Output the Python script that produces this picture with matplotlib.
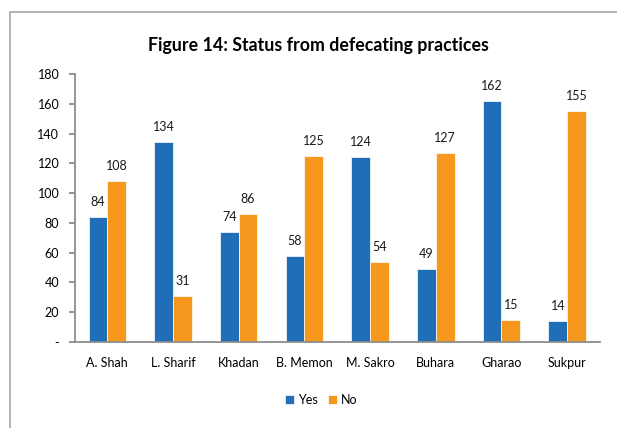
"""Figure 14: status from defecating practices, grouped bars per village."""

import matplotlib.pyplot as plt
import numpy as np
from matplotlib.patches import Rectangle

VILLAGES = ["A. Shah", "L. Sharif", "Khadan", "B. Memon", "M. Sakro", "Buhara", "Gharao", "Sukpur"]
YES = [84, 134, 74, 58, 124, 49, 162, 14]
NO = [108, 31, 86, 125, 54, 127, 15, 155]
Y_TICKS = [0, 20, 40, 60, 80, 100, 120, 140, 160, 180]
Y_TICK_LABELS = ["-"] + [str(t) for t in Y_TICKS[1:]]

BLUE = "#1F6EB7"
ORANGE = "#F7981E"
AXIS_GREY = "#8C8C8C"
FONT = ["Lato", "DejaVu Sans"]

plt.rcParams["font.family"] = FONT


def main() -> None:
    fig = plt.figure(figsize=(6.17, 4.28), dpi=100)
    fig.patches.append(Rectangle((10 / 617, -0.1), 1.2, 1 - 12 / 428 + 0.1,
                                 transform=fig.transFigure, fill=False,
                                 edgecolor="#A6A6A6", linewidth=1.2))

    ax = fig.add_axes([74.5 / 617, (428 - 342) / 428, (600 - 74.5) / 617, (342 - 74) / 428])
    x = np.arange(len(VILLAGES))
    width = 0.285
    bars_yes = ax.bar(x - width / 2, YES, width, color=BLUE, edgecolor="white", linewidth=0.5, label="Yes")
    bars_no = ax.bar(x + width / 2, NO, width, color=ORANGE, edgecolor="white", linewidth=0.5, label="No")

    for bars in (bars_yes, bars_no):
        for bar in bars:
            ax.annotate(f"{bar.get_height():.0f}",
                        (bar.get_x() + bar.get_width() / 2, bar.get_height()),
                        xytext=(0, 6.5), textcoords="offset points",
                        ha="center", va="bottom", fontsize=9, color="#1a1a1a")

    ax.set_xlim(-0.5, len(VILLAGES) - 0.5)
    ax.set_ylim(0, 180)
    ax.set_yticks(Y_TICKS)
    ax.set_yticklabels(Y_TICK_LABELS, fontsize=9)
    ax.set_xticks(x)
    ax.set_xticklabels(VILLAGES, fontsize=9)
    ax.tick_params(axis="x", length=0, pad=11)
    ax.tick_params(axis="y", length=4, width=1.3, color=AXIS_GREY, pad=7)

    for side in ("top", "right"):
        ax.spines[side].set_visible(False)
    for side in ("left", "bottom"):
        ax.spines[side].set_color(AXIS_GREY)
        ax.spines[side].set_linewidth(1.3)

    fig.text(318 / 617, 1 - 46 / 428, "Figure 14: Status from defecating practices",
             ha="center", va="center", fontsize=12.8, fontweight="bold")

    fig.legend(loc="center", bbox_to_anchor=(321 / 617, 1 - 400 / 428), ncol=2, frameon=False,
               fontsize=9, handlelength=0.75, handleheight=0.75, handletextpad=0.3,
               columnspacing=0.8)

    fig.savefig("out.png", dpi=100)


if __name__ == "__main__":
    main()
